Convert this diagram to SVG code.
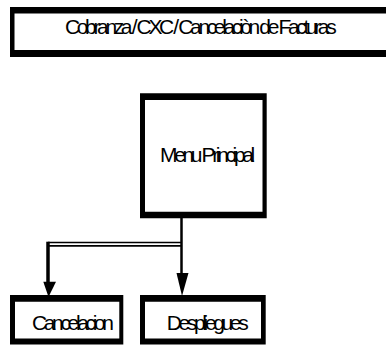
<svg xmlns="http://www.w3.org/2000/svg" width="386" height="345" viewBox="0 0 386 345">
  <style>
    .frame { fill: #000; fill-rule: evenodd; }
    .label { font-family: "Liberation Sans", Arial, sans-serif; fill: #000; font-size: 21px; letter-spacing: -3.36px; }
    .wire { stroke: #000; fill: none; }
    .head { fill: #000; }
  </style>
  <rect x="0" y="0" width="386" height="345" fill="#fff"/>

  <!-- header banner -->
  <g id="header">
    <path class="frame" d="M10,7 H392 V57 H10 Z M14.5,13.5 V50 H388 V13.5 Z"/>
    <text class="label" x="65" y="33.5">Cobranza / CXC / Cancelaciòn de Facturas</text>
  </g>

  <!-- main menu -->
  <g id="menu-principal">
    <path class="frame" d="M140,93.3 H266.7 V218.3 H140 Z M145,100 V211.7 H262.5 V100 Z"/>
    <text class="label" x="160" y="162">Menu Principal</text>
  </g>

  <!-- leaf: cancelacion -->
  <g id="cancelacion">
    <path class="frame" d="M10,295 H123.3 V344.5 H10 Z M15,301.7 V338.5 H119.3 V301.7 Z"/>
    <text class="label" x="32" y="330" letter-spacing="-3.4">Cancelacion</text>
  </g>

  <!-- leaf: despliegues -->
  <g id="despliegues">
    <path class="frame" d="M140,295 H265.7 V344.5 H140 Z M145,301.7 V338.5 H261 V301.7 Z"/>
    <text class="label" x="166.7" y="330" letter-spacing="-3.2">Despliegues</text>
  </g>

  <!-- connectors -->
  <g id="connectors">
    <line class="wire" x1="181.5" y1="218" x2="181.5" y2="276" stroke-width="2.5"/>
    <line class="wire" x1="48" y1="242.5" x2="181.5" y2="242.5" stroke-width="1.7"/>
    <line class="wire" x1="48" y1="245.8" x2="181.5" y2="245.8" stroke-width="1.7"/>
    <line class="wire" x1="48" y1="241.7" x2="48" y2="284" stroke-width="3.5"/>
    <polygon class="head" points="43.3,281.7 56,281.7 48.5,297"/>
    <polygon class="head" points="176.5,273 188.5,273 182,296"/>
  </g>
</svg>
